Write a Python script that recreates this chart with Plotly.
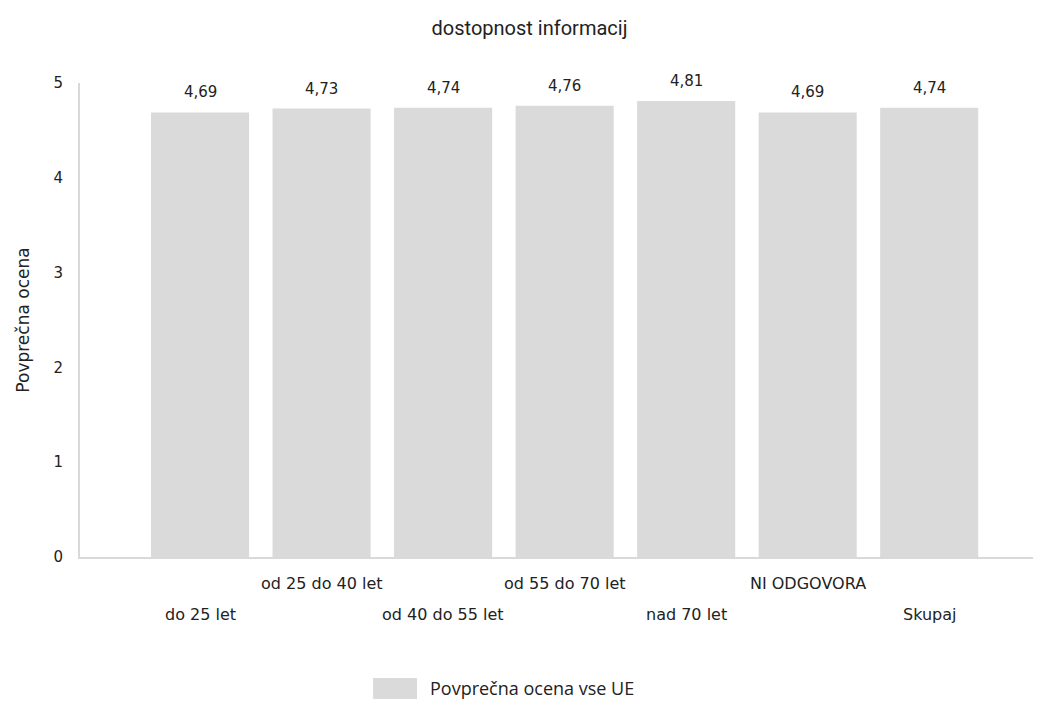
import plotly.graph_objects as go

title_text = "dostopnost informacij"
categories = ["do 25 let", "od 25 do 40 let", "od 40 do 55 let", "od 55 do 70 let",
              "nad 70 let", "NI ODGOVORA", "Skupaj"]
values = [4.69, 4.73, 4.74, 4.76, 4.81, 4.69, 4.74]
value_labels = ["4,69", "4,73", "4,74", "4,76", "4,81", "4,69", "4,74"]
series_name = "Povprečna ocena vse UE"
y_title = "Povprečna ocena"
y_ticks = [0, 1, 2, 3, 4, 5]

bar_color = "#dadada"
text_color = "#222222"
xs = list(range(len(categories)))

# page body has an 8px margin; size the figure so it fills the window
W, H = 1033, 693

fig = go.Figure()
fig.add_trace(go.Bar(x=xs, y=values, width=0.807, marker=dict(color=bar_color, line=dict(width=0)),
                     name=series_name, showlegend=False, hoverinfo="skip"))

annotations = []
for i, (v, lab) in enumerate(zip(values, value_labels)):
    annotations.append(dict(x=i, y=v, xref="x", yref="y", text=lab, showarrow=False,
                            yanchor="middle", yshift=20,
                            font=dict(family="DejaVu Sans", size=15, color=text_color)))
for i, cat in enumerate(categories):
    annotations.append(dict(x=i, y=(-0.122 if i % 2 == 0 else -0.0549), xref="x", yref="paper",
                            text=cat, showarrow=False, yanchor="middle",
                            font=dict(family="DejaVu Sans", size=16, color=text_color)))
annotations.append(dict(x=0.3621, y=-0.2774, xref="paper", yref="paper", text=series_name,
                        showarrow=False, xanchor="left", yanchor="middle",
                        font=dict(family="Open Sans", size=18, color=text_color)))

fig.update_layout(
    width=W, height=H,
    margin=dict(l=72, r=0, t=75, b=144, pad=0),
    paper_bgcolor="white", plot_bgcolor="white",
    title=dict(text=title_text, x=521.5 / W, xanchor="center", y=1 - 20 / H, yanchor="middle",
               font=dict(family="Roboto", size=20, color=text_color)),
    xaxis=dict(range=[-0.988, 6.92], showticklabels=False, ticks="", showgrid=False,
               zeroline=False, showline=True, linecolor="#d9d9d9", linewidth=2, fixedrange=True),
    yaxis=dict(range=[0, 5], tickvals=y_ticks, showgrid=False, zeroline=False,
               showline=True, linecolor="#d9d9d9", linewidth=2, ticks="", ticklabelstandoff=12,
               tickfont=dict(family="DejaVu Sans", size=15, color=text_color),
               title=dict(text=y_title, standoff=20,
                          font=dict(family="DejaVu Sans", size=17, color=text_color))),
    annotations=annotations,
    shapes=[dict(type="rect", xref="paper", yref="paper", x0=0.305, x1=0.3507, y0=-0.2996, y1=-0.2553,
                 fillcolor=bar_color, line=dict(width=0))],
    showlegend=False,
    bargap=0.2,
)

fig.write_html("out.html")
